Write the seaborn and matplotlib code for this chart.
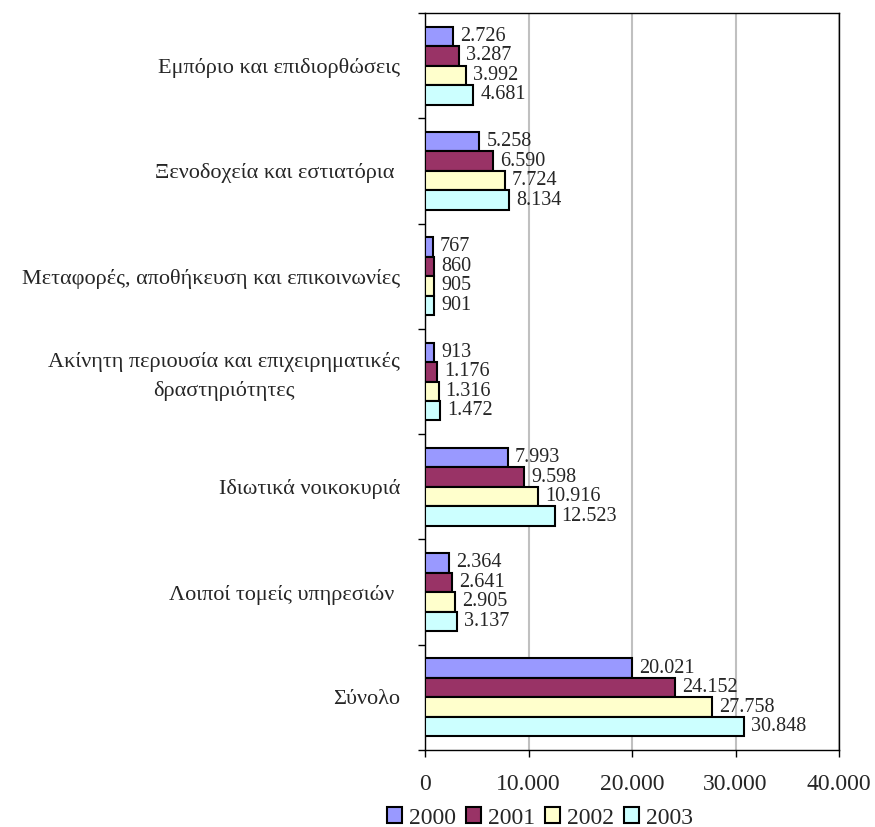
import numpy as np
import pandas as pd
import matplotlib
matplotlib.use('Agg')
import matplotlib.pyplot as plt
import matplotlib.transforms as mtransforms
import seaborn as sns

sns.set_theme(style='white')
plt.rcParams['font.family'] = ['Liberation Serif', 'DejaVu Serif']

categories = ['Εμπόριο και επιδιορθώσεις',
              'Ξενοδοχεία και εστιατόρια ',
              'Μεταφορές, αποθήκευση και επικοινωνίες',
              'Ακίνητη περιουσία και επιχειρηματικές\nδραστηριότητες',
              'Ιδιωτικά νοικοκυριά',
              'Λοιποί τομείς υπηρεσιών ',
              'Σύνολο']
years = ['2000', '2001', '2002', '2003']
v2000 = [2726, 5258, 767, 913, 7993, 2364, 20021]
v2001 = [3287, 6590, 860, 1176, 9598, 2641, 24152]
v2002 = [3992, 7724, 905, 1316, 10916, 2905, 27758]
v2003 = [4681, 8134, 901, 1472, 12523, 3137, 30848]
colors = ['#9999FF', '#993366', '#FFFFCC', '#CCFFFF']

df = pd.DataFrame({'cat': categories * 4,
                   'year': sum([[y] * len(categories) for y in years], []),
                   'val': v2000 + v2001 + v2002 + v2003})

fig = plt.figure(figsize=(8.75, 8.27), dpi=100)
ax = fig.add_axes([425/875, 1-750/827, 414/875, 737/827])
sns.barplot(data=df, y='cat', x='val', hue='year', palette=colors, orient='h',
            width=0.74, edgecolor='black', linewidth=1.5, saturation=1, ax=ax, zorder=3)

fmt = lambda v: f"{v:,.0f}".replace(",", ".")
for c in ax.containers:
    ax.bar_label(c, labels=[fmt(b.get_width()) for b in c], padding=5, fontsize=14.5)

ax.set_xlim(0, 40000)
ax.set_ylim(len(categories) - 0.5, -0.5)
ax.set_xticks([0, 10000, 20000, 30000, 40000])
ax.set_xticklabels(['0', '10.000', '20.000', '30.000', '40.000'], fontsize=17)
ax.tick_params(axis='x', which='major', direction='out', length=5, width=1, color='black', pad=12, bottom=True)
ax.set_yticks(np.arange(len(categories)))
ax.set_yticklabels(categories, fontsize=16, multialignment='center', linespacing=1.6)
ax.set_yticks(np.arange(-0.5, len(categories), 1), minor=True)
ax.tick_params(axis='y', which='major', length=0, pad=18)
ax.tick_params(axis='y', which='minor', direction='out', length=5, width=1, color='black', left=True)
ax.xaxis.grid(True, color='#c0c0c0', linewidth=1.5, zorder=0)
ax.set_xlabel('')
ax.set_ylabel('')
for s in ax.spines.values():
    s.set_color('black')
    s.set_linewidth(1)

# two-line label sits a bit higher in the original
lab = ax.get_yticklabels()[3]
lab.set_transform(lab.get_transform() + mtransforms.ScaledTranslation(0, 9/72, fig.dpi_scale_trans))

ax.legend(loc='center', bbox_to_anchor=(540/875, 1-818/827), bbox_transform=fig.transFigure,
          ncol=4, frameon=False, fontsize=17, handlelength=0.65, handleheight=0.65,
          handletextpad=0.3, columnspacing=0.4, borderpad=0)
fig.savefig('out.png', dpi=100)
